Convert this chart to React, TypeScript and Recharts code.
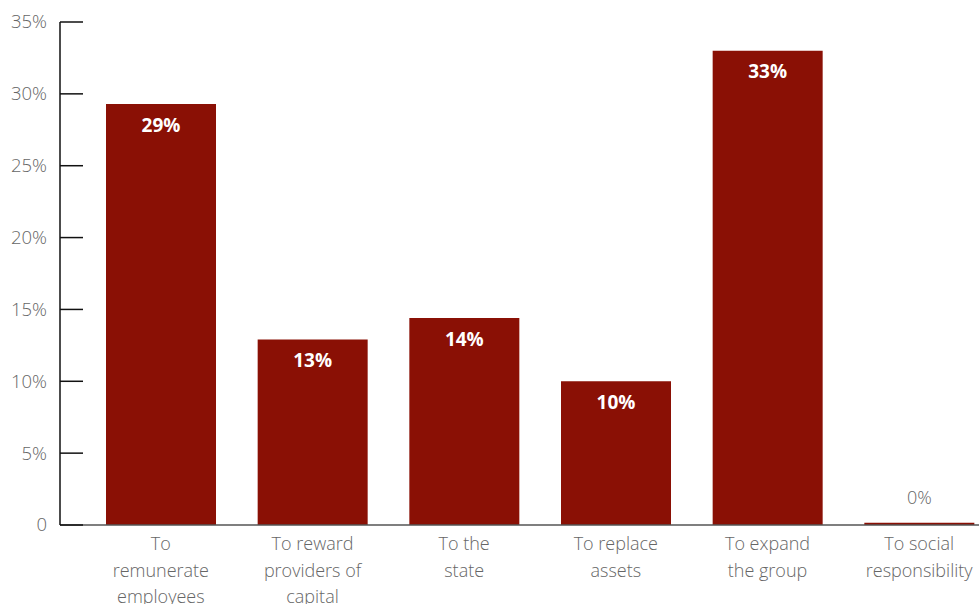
import { BarChart, Bar, XAxis, YAxis, LabelList } from 'recharts';

const categories = [
    "To\nremunerate\nemployees",
    "To reward\nproviders of\ncapital",
    "To the\nstate",
    "To replace\nassets",
    "To expand\nthe group",
    "To social\nresponsibility",
];
const shares = [29.3, 12.9, 14.4, 10.0, 33.0, 0.15];
const shareLabels = ["29%", "13%", "14%", "10%", "33%", "0%"];
const yTicks = [0, 5, 10, 15, 20, 25, 30, 35];

const data = categories.map((name, i) => ({ name, value: shares[i], label: shareLabels[i] }));

const BAR_COLOR = "#8a1005";
const TEXT_GRAY = "#666";
const FONT = "'Open Sans', 'Noto Sans', sans-serif";

const YTick = (props: any) => {
    const { y, payload } = props;
    const v = payload.value;
    return (
        <g>
            <line x1={60} x2={83} y1={y} y2={y} stroke="#111" strokeWidth={1.5} />
            <text x={47} y={y} dy="0.35em" textAnchor="end" fill={TEXT_GRAY}
                fontSize={18.5} fontFamily={FONT} fontWeight={300}>
                {v === 0 ? "0" : `${v}%`}
            </text>
        </g>
    );
};

const XTick = (props: any) => {
    const { x, y, payload } = props;
    const lines = String(payload.value).split("\n");
    return (
        <text x={x} y={y} textAnchor="middle" fill={TEXT_GRAY} fontSize={18}
            fontFamily={FONT} fontWeight={300}>
            {lines.map((l, i) => (
                <tspan key={i} x={x} dy={i === 0 ? "0.95em" : 26.5}>{l}</tspan>
            ))}
        </text>
    );
};

const BarLabel = (props: any) => {
    const { x, y, width, index } = props;
    const v = shares[index];
    const cx = x + width / 2;
    if (v < 1) {
        return (
            <text x={cx} y={y - 25} dy="0.35em" textAnchor="middle" fill={TEXT_GRAY}
                fontSize={18} fontFamily={FONT} fontWeight={300}>
                {shareLabels[index]}
            </text>
        );
    }
    return (
        <text x={cx} y={y + 21} dy="0.35em" textAnchor="middle" fill="#fff"
            fontSize={19} fontFamily={FONT} fontWeight={700}>
            {shareLabels[index]}
        </text>
    );
};

export default function App() {
    return (
        <div style={{ position: "absolute", left: 0, top: 0, width: 979, height: 604, overflow: "hidden", background: "#fff" }}>
            <BarChart width={995} height={604} data={data}
                margin={{ top: 22, right: 0, bottom: 0, left: 0 }}>
                <XAxis dataKey="name" height={79} interval={0} padding={{ left: 25, right: 0 }}
                    axisLine={{ stroke: "#555", strokeWidth: 1.5 }} tickLine={false}
                    tick={<XTick />} tickMargin={2} />
                <YAxis width={60} domain={[0, 35]} ticks={yTicks} interval={0}
                    axisLine={{ stroke: "#111", strokeWidth: 1.5 }} tickLine={false}
                    tick={<YTick />} allowDataOverflow />
                <Bar dataKey="value" fill={BAR_COLOR} barSize={110} isAnimationActive={false}>
                    <LabelList dataKey="value" content={<BarLabel />} />
                </Bar>
            </BarChart>
        </div>
    );
}
